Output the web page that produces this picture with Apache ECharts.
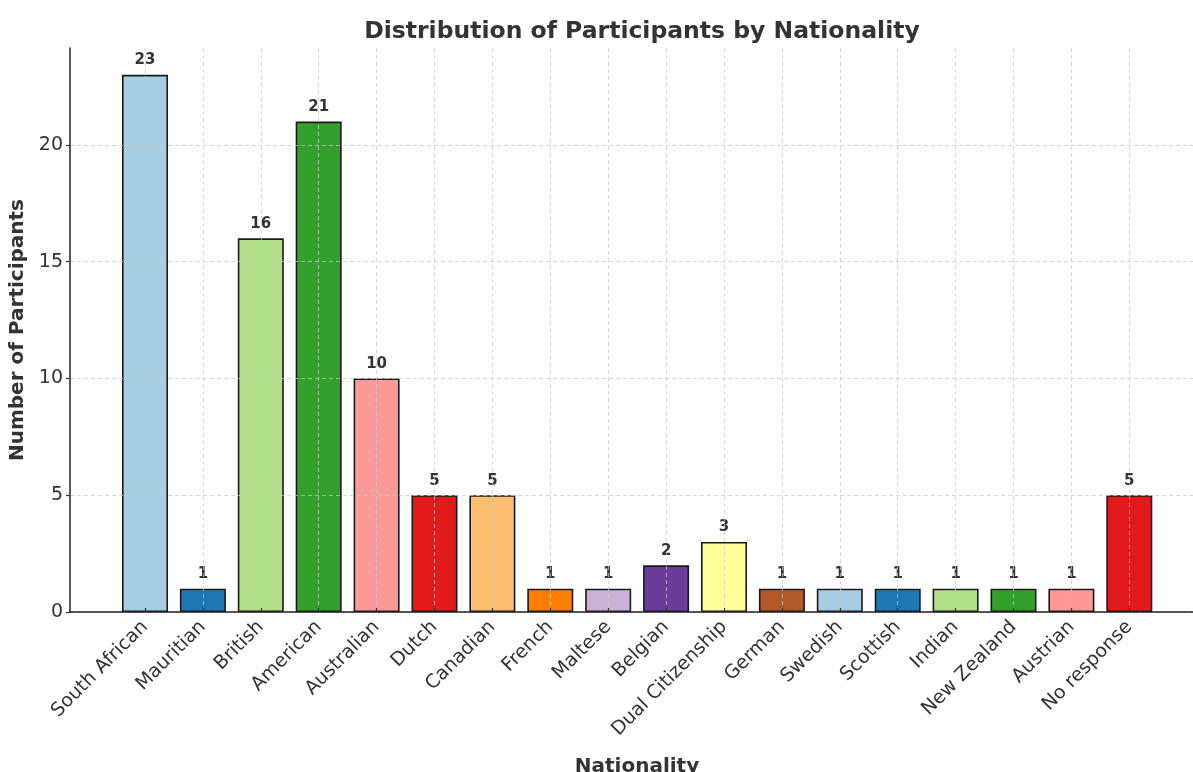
<!DOCTYPE html>
<html>
<head>
<meta charset="utf-8">
<script src="https://cdn.jsdelivr.net/npm/echarts@6/dist/echarts.min.js"></script>
<style>
  html, body { margin: 0; padding: 0; background: #fff; }
  #chart { width: 1193px; height: 772px; }
</style>
</head>
<body>
<div id="chart"></div>
<script>
// Participants by nationality
const categories = ['South African', 'Mauritian', 'British', 'American', 'Australian', 'Dutch',
  'Canadian', 'French', 'Maltese', 'Belgian', 'Dual Citizenship', 'German', 'Swedish',
  'Scottish', 'Indian', 'New Zealand', 'Austrian', 'No response'];
const counts = [23, 1, 16, 21, 10, 5, 5, 1, 1, 2, 3, 1, 1, 1, 1, 1, 1, 5];
const yTicks = [0, 5, 10, 15, 20];

// Qualitative "Paired" palette, cycled across the bars
const palette = ['#a6cee3', '#1f78b4', '#b2df8a', '#33a02c', '#fb9a99', '#e31a1c',
  '#fdbf6f', '#ff7f00', '#cab2d6', '#6a3d9a', '#ffff99', '#b15928'];

const FONT = 'DejaVu Sans';
const TEXT = '#333333';
const positions = categories.map((_, i) => i);
const gridLine = { show: true, lineStyle: { color: '#c8c8c8', type: [4, 3], width: 0.9, opacity: 0.8 } };

const chart = echarts.init(document.getElementById('chart'), null, { renderer: 'canvas' });

chart.setOption({
  backgroundColor: '#ffffff',
  animation: false,
  title: {
    text: 'Distribution of Participants by Nationality',
    left: 637,
    top: 15,
    textAlign: 'center',
    textStyle: { fontFamily: FONT, fontWeight: 'bold', fontSize: 23.5, color: TEXT }
  },
  grid: { left: 70, right: 0, top: 48, bottom: 160, containLabel: false, outerBoundsMode: 'none' },
  xAxis: {
    type: 'value',
    min: -1.295,
    max: 18.1,
    z: 5,
    name: 'Nationality',
    nameLocation: 'middle',
    nameGap: 145,
    nameTextStyle: { fontFamily: FONT, fontWeight: 'bold', fontSize: 20, color: TEXT, padding: [0, 0, 0, 11] },
    axisLine: { show: true, onZero: false, lineStyle: { color: '#222', width: 1.5 } },
    axisTick: { show: true, inside: true, length: 4, customValues: positions, lineStyle: { color: '#333', width: 1.2 } },
    axisLabel: {
      customValues: positions,
      rotate: 45,
      margin: 12,
      fontFamily: FONT,
      fontSize: 19,
      color: TEXT,
      formatter: v => categories[Math.round(v)] || ''
    },
    splitLine: gridLine
  },
  yAxis: {
    type: 'value',
    min: 0,
    max: 24.15,
    z: 5,
    name: 'Number of Participants',
    nameLocation: 'middle',
    nameRotate: 90,
    nameGap: 39,
    nameTextStyle: { fontFamily: FONT, fontWeight: 'bold', fontSize: 20, color: TEXT },
    axisLine: { show: true, onZero: false, lineStyle: { color: '#222', width: 1.5 } },
    axisTick: { show: true, length: 4, customValues: yTicks, lineStyle: { color: '#333', width: 1.2 } },
    axisLabel: {
      customValues: yTicks,
      margin: 7,
      fontFamily: FONT,
      fontSize: 19,
      color: TEXT
    },
    splitLine: gridLine
  },
  series: [{
    type: 'bar',
    z: 2,
    barWidth: 46,
    data: counts.map((v, i) => ({
      value: [i, v],
      itemStyle: { color: palette[i % palette.length] }
    })),
    itemStyle: { borderColor: '#1a1a1a', borderWidth: 1.6 },
    label: {
      show: true,
      position: 'top',
      distance: 7,
      fontFamily: FONT,
      fontWeight: 'bold',
      fontSize: 15,
      color: TEXT,
      formatter: p => String(p.value[1])
    }
  }]
});
</script>
</body>
</html>
